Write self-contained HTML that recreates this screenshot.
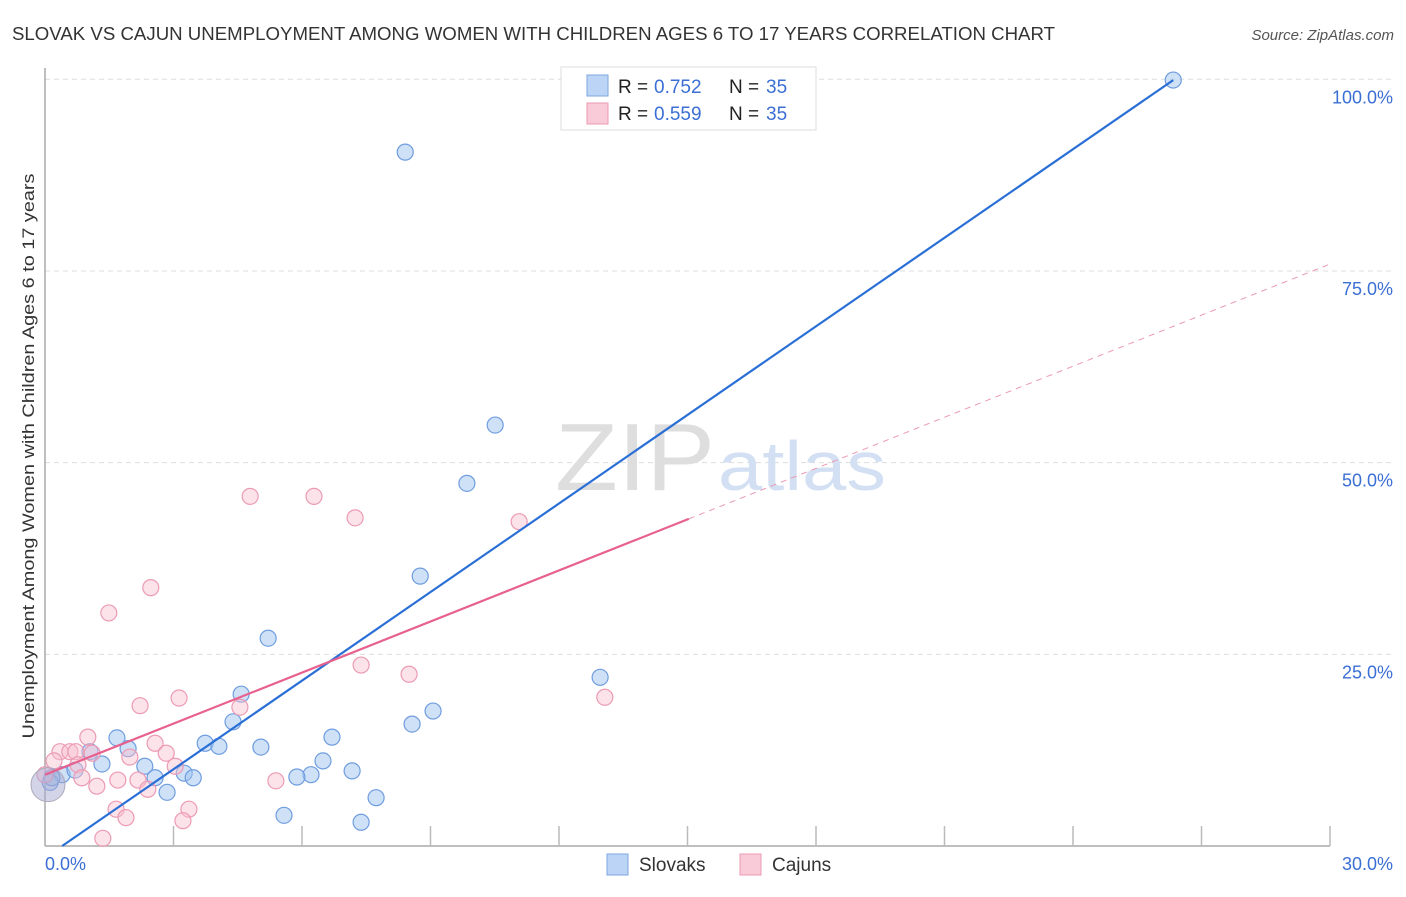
<!DOCTYPE html>
<html><head><meta charset="utf-8"><style>
body{margin:0;background:#fff;font-family:"Liberation Sans",sans-serif;}
svg text{font-family:"Liberation Sans",sans-serif;}
</style></head><body>
<svg id="chart" width="1406" height="892" viewBox="0 0 1406 892" xmlns="http://www.w3.org/2000/svg">
<text x="12" y="40" font-size="18" fill="#333" textLength="1043" lengthAdjust="spacingAndGlyphs">SLOVAK VS CAJUN UNEMPLOYMENT AMONG WOMEN WITH CHILDREN AGES 6 TO 17 YEARS CORRELATION CHART</text>
<text x="1394" y="40" font-size="15" fill="#555" font-style="italic" text-anchor="end">Source: ZipAtlas.com</text>
<g id="grid"></g>
<text x="555" y="490" font-size="96" fill="#dedede" textLength="160" lengthAdjust="spacingAndGlyphs" font-family="Liberation Serif">ZIP</text>
<text x="718" y="490" font-size="70" fill="#d3e0f3" textLength="168" lengthAdjust="spacingAndGlyphs">atlas</text>
<line x1="45" y1="68" x2="45" y2="846" stroke="#aaa" stroke-width="1.5"/>
<line x1="45" y1="846" x2="1330" y2="846" stroke="#aaa" stroke-width="1.5"/>
<g id="ticks"></g>
<g id="pts"></g>
<g id="lines"></g>
<text transform="translate(34,456) rotate(-90)" font-size="17" fill="#333" text-anchor="middle" textLength="565" lengthAdjust="spacingAndGlyphs">Unemployment Among Women with Children Ages 6 to 17 years</text>
<text x="45" y="870" font-size="18" fill="#3b6fd4">0.0%</text>
<text x="1393" y="870" font-size="18" fill="#3b6fd4" text-anchor="end">30.0%</text>
<g>
<rect x="561" y="67" width="255" height="63" fill="#fff" stroke="#ddd"/>
<rect x="587" y="75" width="21" height="21" fill="#bcd4f5" stroke="#7ea6e0"/>
<text x="618" y="93" font-size="19" fill="#222">R =</text>
<text x="654" y="93" font-size="19" fill="#3b6fd4">0.752</text>
<text x="729" y="93" font-size="19" fill="#222">N =</text>
<text x="766" y="93" font-size="19" fill="#3b6fd4">35</text>
<rect x="587" y="103" width="21" height="21" fill="#f9cbd8" stroke="#eb9ab2"/>
<text x="618" y="120" font-size="19" fill="#222">R =</text>
<text x="654" y="120" font-size="19" fill="#3b6fd4">0.559</text>
<text x="729" y="120" font-size="19" fill="#222">N =</text>
<text x="766" y="120" font-size="19" fill="#3b6fd4">35</text>
</g>
<g>
<rect x="607" y="854" width="21" height="21" fill="#bcd4f5" stroke="#7ea6e0"/>
<text x="639" y="871" font-size="19" fill="#333">Slovaks</text>
<rect x="740" y="854" width="21" height="21" fill="#f9cbd8" stroke="#eb9ab2"/>
<text x="772" y="871" font-size="19" fill="#333">Cajuns</text>
</g>
</svg>
<script>
const yTicks=[25,50,75,100];
const yTickLabels=["25.0%","50.0%","75.0%","100.0%"];
const xTicks=[3,6,9,12,15,18,21,24,27,30];
const slovakX=[26.34,8.41,10.51,9.85,8.76,5.21,12.96,4.58,9.06,8.57,4.39,1.68,6.70,3.74,4.06,5.04,1.94,1.05,1.33,6.49,2.33,3.25,2.57,3.46,6.21,5.88,7.17,0.40,0.12,2.85,7.73,5.58,7.38,0.70,0.16];
const slovakY=[99.9,90.5,54.9,47.3,35.2,27.1,22.0,19.8,17.6,15.9,16.2,14.1,14.2,13.4,13.0,12.9,12.7,12.3,10.7,11.1,10.4,9.5,8.9,8.9,9.3,9.0,9.8,9.3,8.3,7.0,6.3,4.0,3.1,9.9,8.9];
const cajunX=[4.79,6.28,7.24,11.07,2.47,1.49,7.38,8.50,3.13,13.07,2.22,4.55,1.00,2.57,0.35,0.58,0.72,1.10,2.83,1.98,0.21,0.77,3.04,1.70,2.17,5.39,0.86,1.21,2.40,1.66,3.36,1.89,3.22,1.35,0.0];
const cajunY=[45.6,45.6,42.8,42.3,33.7,30.4,23.6,22.4,19.3,19.4,18.3,18.1,14.2,13.4,12.3,12.3,12.3,12.1,12.1,11.6,11.1,10.6,10.4,8.6,8.6,8.5,8.9,7.8,7.4,4.8,4.8,3.7,3.3,1.0,9.3];
const slovakTrend=[-1.54,3.851];
const cajunTrend=[9.3,2.22];
const NS="http://www.w3.org/2000/svg";
const X=v=>45+v*(1285/30);
const Y=v=>846-v*7.667;
function mk(tag,attrs,parent){const e=document.createElementNS(NS,tag);for(const k in attrs)e.setAttribute(k,attrs[k]);document.getElementById(parent).appendChild(e);return e;}
yTicks.forEach((t,i)=>{
 const l=mk('line',{x1:45,x2:1395,y1:Y(t),y2:Y(t),stroke:'#ddd','stroke-dasharray':'5,4'},'grid');
 
 
 const tx=mk('text',{x:1393,y:Y(t)+24,'font-size':18,fill:'#3b6fd4','text-anchor':'end'},'grid');
 tx.textContent=yTickLabels[i];
 
 
});
xTicks.forEach(t=>{
 const l=mk('line',{x1:X(t),x2:X(t),y1:826,y2:846,stroke:'#bbb','stroke-width':1.5},'ticks');
 
 
});
slovakX.forEach((v,i)=>{
 const c=mk('circle',{cx:X(v),cy:Y(slovakY[i]),r:8,fill:'rgba(160,196,240,0.5)',stroke:'#6f9de0','stroke-width':1.2},'pts');
 
 
});
cajunX.forEach((v,i)=>{
 const c=mk('circle',{cx:X(v),cy:Y(cajunY[i]),r:8,fill:'rgba(248,190,206,0.45)',stroke:'#ec9bb4','stroke-width':1.2},'pts');
 
 
});
const big=mk('circle',{cx:X(0.07),cy:Y(8.0),r:17,fill:'rgba(170,170,210,0.5)',stroke:'#aab','stroke-width':1},'pts');


const sx0=(0-slovakTrend[0])/slovakTrend[1], sx1=26.34;
const bl=mk('line',{x1:X(sx0),y1:Y(0),x2:X(sx1),y2:Y(slovakTrend[0]+slovakTrend[1]*sx1),stroke:'#2a6fd6','stroke-width':2.2},'lines');


const pl=mk('line',{x1:X(0),y1:Y(cajunTrend[0]),x2:X(15.03),y2:Y(cajunTrend[0]+cajunTrend[1]*15.03),stroke:'#e8608e','stroke-width':2.2},'lines');


const pd=mk('line',{x1:X(15.03),y1:Y(cajunTrend[0]+cajunTrend[1]*15.03),x2:X(30),y2:Y(cajunTrend[0]+cajunTrend[1]*30),stroke:'#eb9ab2','stroke-width':1,'stroke-dasharray':'6,5'},'lines');


</script>
</body></html>
